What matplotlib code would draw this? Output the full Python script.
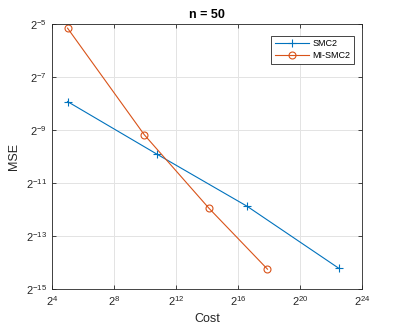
import numpy as np
import matplotlib
matplotlib.use('Agg')
import matplotlib.pyplot as plt

plt.rcParams['font.family'] = ['Liberation Sans', 'DejaVu Sans']
plt.rcParams['mathtext.fontset'] = 'custom'
plt.rcParams['mathtext.rm'] = 'Liberation Sans'

# log2 of cost and MSE
smc2_cost = [5.01, 10.77, 16.6, 22.52]
smc2_mse = [-7.93, -9.91, -11.88, -14.22]
mi_cost = [5.01, 9.96, 14.13, 17.91]
mi_mse = [-5.16, -9.18, -11.95, -14.25]

xticks = [4, 8, 12, 16, 20, 24]
yticks = [-15, -13, -11, -9, -7, -5]

fig = plt.figure(figsize=(3.99, 3.27), dpi=100)
ax = fig.add_axes([0.13, 0.116, 0.777, 0.811])

blue = '#0072BD'
orange = '#D95319'
ax.plot(2.0 ** np.array(smc2_cost), 2.0 ** np.array(smc2_mse), '-+', color=blue,
        lw=0.8, ms=6, mew=0.8, label='SMC2')
ax.plot(2.0 ** np.array(mi_cost), 2.0 ** np.array(mi_mse), '-o', color=orange,
        lw=0.8, ms=5, mew=0.8, mfc='none', label='MI-SMC2')

ax.set_xscale('log', base=2)
ax.set_yscale('log', base=2)
ax.set_xlim(2 ** 4, 2 ** 24)
ax.set_ylim(2 ** -15, 2 ** -5)
ax.set_xticks([2.0 ** t for t in xticks])
ax.set_xticklabels([r'$2^{%d}$' % t for t in xticks])
ax.set_yticks([2.0 ** t for t in yticks])
ax.set_yticklabels([r'$2^{%d}$' % t for t in yticks])
ax.minorticks_off()

ax.grid(True, color='#e3e3e3', lw=0.7)
ax.set_axisbelow(True)
ax.tick_params(direction='in', top=True, right=True, labelsize=8,
               colors='#262626', length=3, width=0.6)
for s in ax.spines.values():
    s.set_color('#262626')
    s.set_linewidth(0.6)

ax.set_xlabel('Cost', fontsize=9, color='#262626')
ax.set_ylabel('MSE', fontsize=9, color='#262626')
ax.set_title('n = 50', fontsize=9, fontweight='bold', color='#000000', pad=4)

leg = ax.legend(loc='upper right', bbox_to_anchor=(0.975, 0.955), fontsize=6.5,
                fancybox=False, framealpha=1, edgecolor='#262626',
                borderaxespad=0, handlelength=3.8, labelspacing=0.3,
                borderpad=0.4, handletextpad=0.4)
leg.get_frame().set_linewidth(0.6)

fig.savefig('out.png', dpi=100)
